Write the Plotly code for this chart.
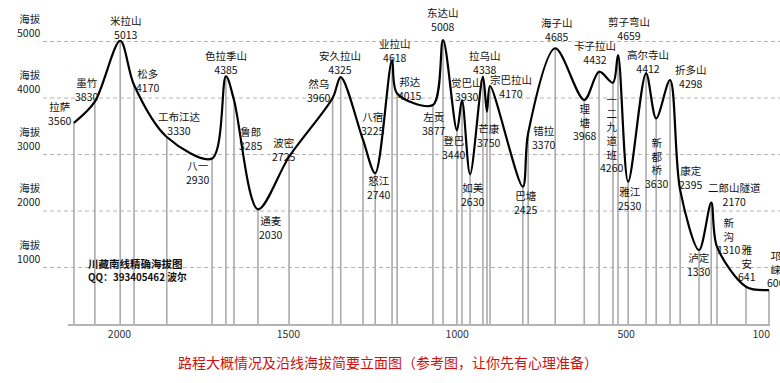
import plotly.graph_objects as go

# ---------------- data ----------------
names = ["拉萨", "墨竹", "米拉山", "松多", "工布江达", "八一", "色拉季山", "鲁郎", "通麦", "波密",
         "然乌", "安久拉山", "八宿", "怒江", "业拉山", "邦达", "左贡", "东达山", "登巴", "觉巴山",
         "如美", "拉乌山", "芒康", "宗巴拉山", "巴塘", "错拉", "海子山", "理塘", "卡子拉山", "一二九道班",
         "剪子弯山", "雅江", "高尔寺山", "新都桥", "折多山", "康定", "泸定", "二郎山隧道", "新沟", "雅安",
         "邛崃"]
# remaining distance (km) of each station on the route
dist = [2135, 2073, 1998, 1957, 1860, 1726, 1685, 1661, 1590, 1498,
        1369, 1345, 1279, 1243, 1193, 1178, 1072, 1042, 1001, 986,
        962, 924, 912, 903, 806, 790, 710, 624, 580, 539,
        524, 494, 441, 411, 370, 340, 284, 248, 231, 145,
        77]
# elevation printed in the labels
elev_label = ["3560", "3830", "5013", "4170", "3330", "2930", "4385", "3285", "2030", "2725",
              "3960", "4325", "3225", "2740", "4618", "4015", "3877", "5008", "3440", "3930",
              "2630", "4338", "3750", "4170", "2425", "3370", "4685", "3968", "4432", "4260",
              "4659", "2530", "4412", "3630", "4298", "2395", "1330", "2170", "1310", "641",
              "600"]
# height of the drawn profile at each station
elev_curve = [3560, 3935, 5013, 4230, 3310, 2930, 4385, 3965, 2030, 2960,
              4000, 4370, 3257, 2670, 4670, 4080, 3876, 5026, 3430, 3965,
              2650, 4377, 3757, 4212, 2430, 3380, 4880, 3965, 4466, 4271,
              4761, 2519, 4437, 3640, 4318, 2370, 1310, 2147, 1368, 660,
              600]
x_ticks = [2000, 1500, 1000, 500, 100]
grid_levels = [1000, 2000, 3000, 4000, 5000]
title_text = "路程大概情况及沿线海拔简要立面图（参考图，让你先有心理准备）"
mark_lines = ["川藏南线精确海拔图", "QQ：393405462 波尔"]

# ---------------- layout helpers ----------------
W, H = 780, 383
ML, MR, MT, MB = 68, 10, 0, 59
PW, PH = W - ML - MR, H - MT - MB

def px2paper(px, py):
    return (px - ML) / PW, (H - MB - py) / PH

vertical = {"理塘", "一二九道班", "新都桥", "新沟", "雅安", "邛崃"}
# label centre positions (pixels)
label_pos = [(59, 113), (86, 89), (126, 27), (147, 80), (179, 123), (197, 172), (226, 63), (250, 138),
             (270, 227), (283, 150), (318, 90), (340, 63), (372, 123), (378, 187), (395, 50), (409, 88),
             (433, 123), (443, 19), (453, 147), (467, 89), (473, 194), (485, 63), (488, 135), (511, 87),
             (525, 202), (543, 137), (557, 30), (584, 122), (595, 53), (611, 134), (629, 29), (629, 198),
             (648, 62), (656, 163), (691, 77), (690, 177), (698, 264), (734, 194), (728, 236), (747, 263),
             (776, 269)]

fig = go.Figure()

# station verticals
vx, vy = [], []
for d, e in zip(dist, elev_curve):
    vx += [d, d, None]
    vy += [0, e, None]
fig.add_trace(go.Scatter(x=vx, y=vy, mode="lines", line=dict(color="#ababab", width=1.6),
                         hoverinfo="skip", showlegend=False))

# elevation profile
fig.add_trace(go.Scatter(x=dist, y=elev_curve, mode="lines",
                         line=dict(color="black", width=2.2, shape="spline", smoothing=0.9),
                         text=names, showlegend=False))

shapes = []
for g in grid_levels:
    shapes.append(dict(type="line", xref="paper", yref="y",
                       x0=(43 - ML) / PW, x1=(W - ML) / PW, y0=g, y1=g,
                       line=dict(color="#b4b4b4", width=1, dash="4px,3px"), layer="below"))

ann = []
font_cjk = "Noto Sans CJK SC, SimSun, sans-serif"
for g in grid_levels:
    ann.append(dict(xref="paper", yref="y", x=(43 - ML) / PW, y=g, xanchor="right", yanchor="bottom",
                    text="海拔<br>%d" % g, align="right", showarrow=False,
                    font=dict(size=10.5, color="#222", family=font_cjk)))

for n, lab, (px, py) in zip(names, elev_label, label_pos):
    if n in vertical:
        txt = "<br>".join(list(n)) + "<br>" + lab
    else:
        txt = n + "<br>" + lab
    xp, yp = px2paper(px, py)
    ann.append(dict(xref="paper", yref="paper", x=xp, y=yp, xanchor="center", yanchor="middle",
                    text=txt, showarrow=False, align="center",
                    font=dict(size=10.5, color="#111", family=font_cjk)))

for i, (t, fs) in enumerate(zip(mark_lines, [10.5, 9.8])):
    xp, yp = px2paper(86, 263 + 14 * i)
    ann.append(dict(xref="paper", yref="paper", x=xp, y=yp, xanchor="left", yanchor="middle",
                    text="<b>%s</b>" % t, showarrow=False,
                    font=dict(size=fs, color="#111", family=font_cjk)))

xp, yp = px2paper(388, 362)
ann.append(dict(xref="paper", yref="paper", x=xp, y=yp, xanchor="center", yanchor="middle",
                text=title_text, showarrow=False,
                font=dict(size=14, color="#cc1111", family=font_cjk)))

fig.update_layout(
    width=W, height=H, margin=dict(l=ML, r=MR, t=MT, b=MB),
    paper_bgcolor="white", plot_bgcolor="white",
    xaxis=dict(range=[2152.5, 74], tickvals=x_ticks, ticktext=[str(t) for t in x_ticks],
               showgrid=False, zeroline=False, showline=True, linecolor="#b4b4b4", linewidth=1.5,
               ticks="", tickfont=dict(size=10.5, color="#333", family=font_cjk)),
    yaxis=dict(range=[0, PH / 56.5 * 1000], visible=False),
    shapes=shapes, annotations=ann,
)

fig.write_html("out.html", config={"displayModeBar": False},
               post_script="document.body.style.margin='0';")
